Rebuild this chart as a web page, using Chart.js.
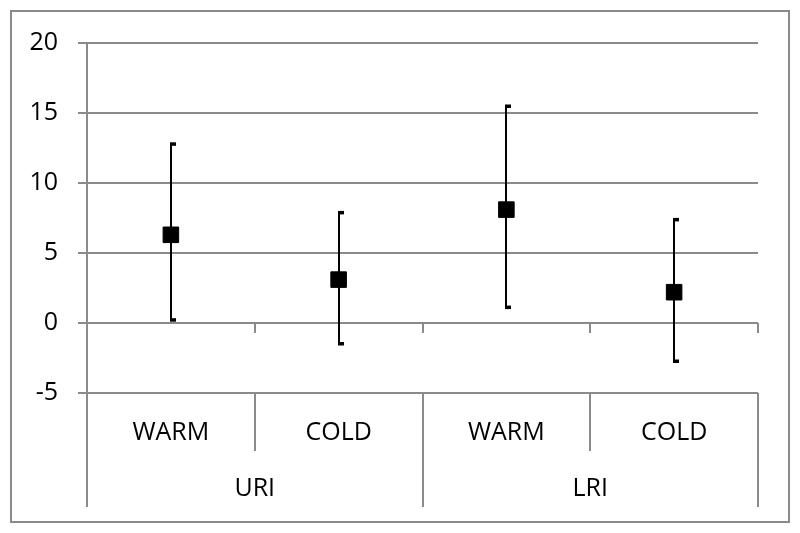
<!DOCTYPE html>
<html>
<head>
<meta charset="utf-8">
<script src="https://cdn.jsdelivr.net/npm/chart.js@4/dist/chart.umd.min.js"></script>
<style>
  html, body { margin: 0; padding: 0; background: #fff; }
  #wrap { width: 800px; height: 533px; }
</style>
</head>
<body>
<div id="wrap"><canvas id="chart" width="800" height="533"></canvas></div>
<script>
const categories = ['WARM', 'COLD', 'WARM', 'COLD'];
const groups = ['URI', 'LRI'];
const means = [6.3, 3.1, 8.1, 2.2];
const upper = [12.8, 7.9, 15.5, 7.4];
const lower = [0.2, -1.5, 1.1, -2.75];
const yTicks = [-5, 0, 5, 10, 15, 20];

const GRID = '#8a8a8a';
const FONT = { family: "'Open Sans', 'Noto Sans', sans-serif", size: 25 };

// frame, zero-axis ticks and the two-level category separators
const framePlugin = {
  id: 'frame',
  beforeDraw(chart) {
    const ctx = chart.ctx;
    ctx.save();
    ctx.fillStyle = '#fff';
    ctx.fillRect(0, 0, chart.width, chart.height);
    ctx.strokeStyle = GRID;
    ctx.lineWidth = 2;
    ctx.strokeRect(11, 11, 778, 511);
    ctx.restore();
  },
  afterDraw(chart) {
    const ctx = chart.ctx;
    const xs = chart.scales.x, ys = chart.scales.y;
    const area = chart.chartArea;
    const y0 = ys.getPixelForValue(0);
    const yb = area.bottom;
    const edges = [area.left];
    for (let i = 0; i < categories.length - 1; i++)
      edges.push((xs.getPixelForValue(i) + xs.getPixelForValue(i + 1)) / 2);
    edges.push(area.right);

    ctx.save();
    ctx.strokeStyle = GRID;
    ctx.lineWidth = 2;
    ctx.beginPath();
    edges.forEach((x, i) => {
      const xx = Math.round(x);
      if (i > 0) { ctx.moveTo(xx, y0); ctx.lineTo(xx, y0 + 10); }
      const groupEdge = i % 2 === 0;
      ctx.moveTo(xx, yb);
      ctx.lineTo(xx, groupEdge ? yb + 114 : yb + 58);
    });
    ctx.stroke();
    ctx.restore();
  }
};

const errorBarPlugin = {
  id: 'errorBars',
  beforeDatasetsDraw(chart) {
    const ctx = chart.ctx;
    const xs = chart.scales.x, ys = chart.scales.y;
    ctx.save();
    ctx.strokeStyle = '#000';
    ctx.fillStyle = '#000';
    ctx.lineWidth = 2;
    means.forEach((m, i) => {
      const x = Math.round(xs.getPixelForValue(i));
      const yHi = ys.getPixelForValue(upper[i]);
      const yLo = ys.getPixelForValue(lower[i]);
      ctx.beginPath();
      ctx.moveTo(x, yHi);
      ctx.lineTo(x, yLo);
      ctx.stroke();
      ctx.fillRect(x - 1, yHi - 1.5, 6, 3.5);
      ctx.fillRect(x - 1, yLo - 2, 6, 3.5);
    });
    ctx.restore();
  }
};

new Chart(document.getElementById('chart'), {
  type: 'line',
  data: {
    labels: categories,
    datasets: [{
      data: means,
      showLine: false,
      pointStyle: 'rect',
      pointRadius: 11,
      pointBorderWidth: 1,
      pointBackgroundColor: '#000',
      pointBorderColor: '#000'
    }]
  },
  options: {
    responsive: false,
    animation: false,
    layout: { padding: { left: 29, right: 42, top: 43, bottom: 26 } },
    plugins: { legend: { display: false }, tooltip: { enabled: false } },
    scales: {
      x: {
        type: 'category',
        offset: true,
        weight: 0,
        grid: { display: false },
        border: { display: false },
        ticks: { color: '#000', font: FONT, padding: 17, maxRotation: 0, autoSkip: false },
        afterFit(scale) { scale.height = 58; }
      },
      x2: {
        type: 'category',
        position: 'bottom',
        labels: groups,
        offset: true,
        weight: 1,
        grid: { display: false },
        border: { display: false },
        ticks: { color: '#000', font: FONT, padding: 15, maxRotation: 0 },
        afterFit(scale) { scale.height = 56; }
      },
      y: {
        min: -5,
        max: 20,
        afterBuildTicks(scale) { scale.ticks = yTicks.map(v => ({ value: v })); },
        grid: { color: GRID, lineWidth: 2, tickLength: 9 },
        border: { display: true, color: GRID, width: 2 },
        ticks: { color: '#000', font: FONT, padding: 20 },
        afterFit(scale) { scale.width = 58; }
      }
    }
  },
  plugins: [framePlugin, errorBarPlugin]
});
</script>
</body>
</html>
